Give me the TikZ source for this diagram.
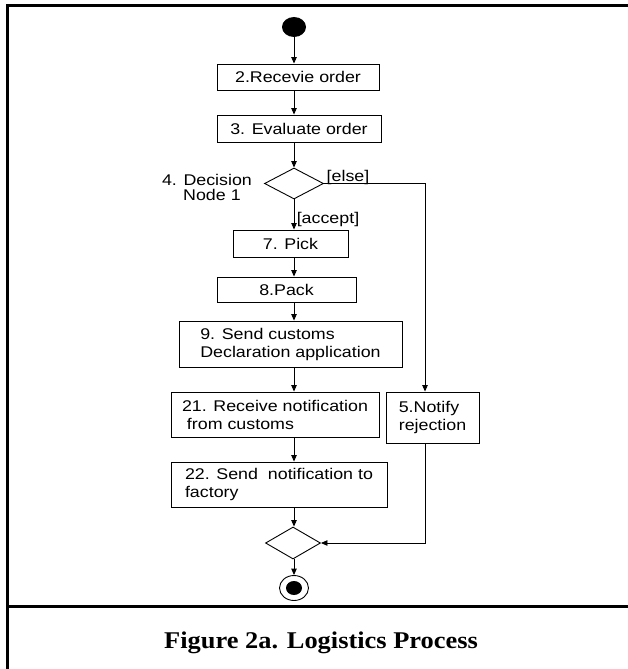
\documentclass[tikz,border=0pt]{standalone}
\usepackage{fontspec}
\setmainfont{Liberation Sans}[FakeStretch=1.15]
\newfontfamily\capfnt{Liberation Serif}[FakeStretch=1.1]
\usetikzlibrary{arrows.meta,shapes.geometric}

\begin{document}
\begin{tikzpicture}[x=1pt,y=-1pt,
	font=\fontsize{15.5}{18}\selectfont,
	>={Triangle[length=6.5pt,width=5.5pt]},
	act/.style={draw,line width=0.9pt,inner sep=0pt,align=left},
	dec/.style={diamond,draw,line width=0.9pt,inner sep=0pt},
	flow/.style={->,line width=0.9pt}]
\useasboundingbox (0,0) rectangle (628,669);
% frame
\draw [line width=3pt] (7,675) -- (7,5.5) -- (635,5.5);
\draw [line width=3pt] (7,606) -- (635,606);

\node [ellipse,fill=black,inner sep=0pt,minimum width=24pt,minimum height=20pt] (start) at (294,27) {};
\node [act,minimum width=162pt,minimum height=26pt] (recv) at (298,77) {2.Recevie order};
\node [act,minimum width=164pt,minimum height=27pt] (eval) at (299,128.5) {3. Evaluate order};
\node [dec,minimum width=59pt,minimum height=31pt] (d1) at (294,183.5) {};
\node [align=center,font=\fontsize{15.5}{14.5}\selectfont] (d1lbl) at (207,187.5) {4. Decision\\\ \ Node 1};
\node (elselbl) at (348,177) {[else]};
\node (acceptlbl) at (328,219) {[accept]};
\node [act,minimum width=115pt,minimum height=27pt] (pick) at (290.5,243.5) {7. Pick};
\node [act,minimum width=139pt,minimum height=25pt] (pack) at (286.5,289.5) {8.Pack};
\node [act,minimum width=223pt,minimum height=46pt] (decl) at (290.5,344) {9. Send customs\\Declaration application};
\node [act,minimum width=208pt,minimum height=45pt] (custNote) at (275,414.5) {21. Receive notification\\\ from customs};
\node [act,minimum width=93pt,minimum height=51pt] (rej) at (432.5,417.5) {5.Notify\\rejection};
\node [act,minimum width=216pt,minimum height=45pt] (factNote) at (279,484.5) {22. Send\ \ notification to\\factory};
\node [dec,minimum width=55pt,minimum height=32pt] (d2) at (293,543) {};
\node [ellipse,draw,line width=0.9pt,inner sep=0pt,minimum width=29pt,minimum height=25pt] (fin) at (294,588) {};
\node [ellipse,fill=black,inner sep=0pt,minimum width=16pt,minimum height=14pt] (finDot) at (fin) {};
\node [font=\capfnt\bfseries\fontsize{24}{28}\selectfont] (cap) at (321,643) {Figure 2a. Logistics Process};
\coordinate (elseX) at (425,0);

\draw [flow] (start) -- (recv.north -| start);
\draw [flow] (recv.south -| start) -- (eval.north -| start);
\draw [flow] (eval.south -| start) -- (d1.north);
\draw [flow] (d1.south) -- (pick.north -| start);
\draw [flow] (pick.south -| start) -- (pack.north -| start);
\draw [flow] (pack.south -| start) -- (decl.north -| start);
\draw [flow] (decl.south -| start) -- (custNote.north -| start);
\draw [flow] (custNote.south -| start) -- (factNote.north -| start);
\draw [flow] (factNote.south -| start) -- (d2.north -| start);
\draw [flow] (d2.south -| start) -- (fin);
\draw [flow] (d1.east) -- (d1.east -| elseX) -- (rej.north -| elseX);
\draw [flow] (rej.south -| elseX) |- (d2.east);
\end{tikzpicture}
\end{document}
